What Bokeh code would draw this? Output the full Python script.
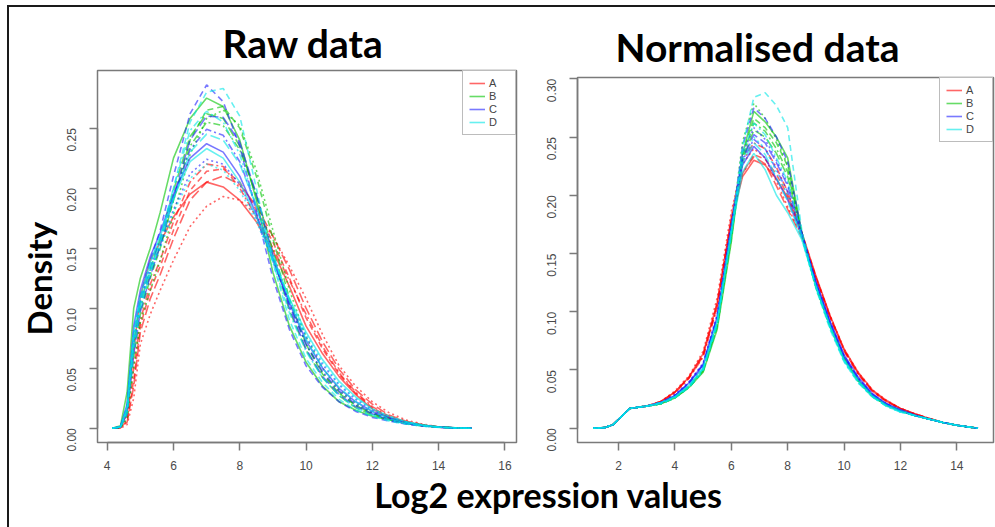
import math
from bokeh.plotting import figure
from bokeh.models import Range1d, FixedTicker, NumeralTickFormatter, Legend, LegendItem, Label, Title, Spacer
from bokeh.layouts import row, column
from bokeh.embed import file_html
from bokeh.resources import INLINE

# ---------------- data ----------------
group_names = ["A", "B", "C", "D"]
group_colors = ["#ff0000", "#00c400", "#1f1fff", "#00e6e6"]
line_styles = ["solid", "6 4", "2 3", "2 3 7 3", "10 4"]

raw_x = [4.15, 4.4, 4.6, 4.8, 5.0, 5.3, 5.6, 6.0, 6.5, 7.0, 7.5, 8.0, 8.5, 9.0, 9.5,
         10.0, 10.5, 11.0, 11.5, 12.0, 12.5, 13.0, 13.5, 14.0, 14.5, 15.0]

raw_A = [
    [0, 0.001, 0.012, 0.065, 0.11, 0.14, 0.155, 0.176, 0.195, 0.205, 0.201, 0.19, 0.172, 0.148, 0.118, 0.085, 0.062, 0.043, 0.028, 0.016, 0.009, 0.0045, 0.002, 0.0008, 0.0002, 0],
    [0, 0.0005, 0.006, 0.04, 0.085, 0.115, 0.135, 0.165, 0.198, 0.214, 0.216, 0.205, 0.182, 0.155, 0.125, 0.092, 0.066, 0.045, 0.029, 0.017, 0.0095, 0.005, 0.0025, 0.001, 0.0003, 0],
    [0, 0, 0.003, 0.025, 0.07, 0.095, 0.115, 0.14, 0.168, 0.185, 0.193, 0.19, 0.178, 0.16, 0.135, 0.108, 0.078, 0.052, 0.035, 0.022, 0.013, 0.007, 0.0035, 0.0012, 0.0003, 0.0001],
    [0, 0.0005, 0.008, 0.05, 0.09, 0.12, 0.14, 0.172, 0.205, 0.22, 0.218, 0.2, 0.176, 0.15, 0.123, 0.095, 0.068, 0.046, 0.03, 0.018, 0.01, 0.0055, 0.0025, 0.001, 0.0003, 0],
    [0, 0.0003, 0.005, 0.035, 0.08, 0.108, 0.128, 0.158, 0.19, 0.205, 0.21, 0.203, 0.185, 0.16, 0.132, 0.1, 0.072, 0.049, 0.032, 0.02, 0.011, 0.006, 0.003, 0.001, 0.0003, 0],
]
raw_B = [
    [0, 0.002, 0.03, 0.1, 0.125, 0.15, 0.18, 0.225, 0.258, 0.275, 0.268, 0.24, 0.19, 0.13, 0.085, 0.055, 0.035, 0.022, 0.015, 0.01, 0.007, 0.004, 0.002, 0.001, 0.0003, 0],
    [0, 0.0008, 0.012, 0.06, 0.095, 0.125, 0.15, 0.19, 0.24, 0.265, 0.268, 0.25, 0.21, 0.158, 0.108, 0.07, 0.045, 0.029, 0.019, 0.012, 0.008, 0.005, 0.0025, 0.001, 0.0003, 0],
    [0, 0.0005, 0.008, 0.05, 0.088, 0.115, 0.14, 0.178, 0.228, 0.258, 0.265, 0.252, 0.215, 0.165, 0.115, 0.076, 0.05, 0.032, 0.021, 0.013, 0.008, 0.005, 0.0025, 0.001, 0.0003, 0.0001],
    [0, 0.001, 0.015, 0.07, 0.1, 0.128, 0.152, 0.19, 0.235, 0.255, 0.252, 0.232, 0.195, 0.148, 0.104, 0.07, 0.046, 0.03, 0.019, 0.012, 0.008, 0.005, 0.0025, 0.001, 0.0003, 0],
    [0, 0.001, 0.016, 0.072, 0.104, 0.132, 0.158, 0.198, 0.243, 0.262, 0.258, 0.235, 0.193, 0.143, 0.098, 0.065, 0.042, 0.027, 0.017, 0.011, 0.007, 0.004, 0.002, 0.0008, 0.0002, 0],
]
raw_C = [
    [0, 0.0015, 0.02, 0.085, 0.115, 0.143, 0.163, 0.195, 0.225, 0.237, 0.23, 0.21, 0.178, 0.14, 0.104, 0.073, 0.05, 0.033, 0.022, 0.014, 0.009, 0.005, 0.0025, 0.001, 0.0003, 0],
    [0, 0.001, 0.018, 0.08, 0.11, 0.14, 0.165, 0.21, 0.262, 0.286, 0.272, 0.235, 0.18, 0.125, 0.082, 0.052, 0.034, 0.022, 0.014, 0.009, 0.006, 0.0035, 0.0018, 0.0007, 0.0002, 0],
    [0, 0.001, 0.014, 0.07, 0.104, 0.132, 0.152, 0.182, 0.212, 0.224, 0.22, 0.203, 0.175, 0.14, 0.106, 0.076, 0.053, 0.036, 0.024, 0.015, 0.009, 0.005, 0.0025, 0.001, 0.0003, 0],
    [0, 0.001, 0.016, 0.075, 0.107, 0.135, 0.157, 0.192, 0.232, 0.249, 0.244, 0.222, 0.185, 0.142, 0.102, 0.07, 0.047, 0.031, 0.02, 0.013, 0.008, 0.0045, 0.0022, 0.0009, 0.0002, 0],
    [0, 0.0008, 0.012, 0.062, 0.097, 0.127, 0.152, 0.193, 0.24, 0.26, 0.259, 0.238, 0.195, 0.145, 0.1, 0.066, 0.043, 0.028, 0.018, 0.012, 0.007, 0.004, 0.002, 0.0008, 0.0002, 0],
]
raw_D = [
    [0, 0.0012, 0.018, 0.08, 0.11, 0.138, 0.16, 0.192, 0.222, 0.233, 0.225, 0.205, 0.176, 0.142, 0.108, 0.08, 0.057, 0.039, 0.026, 0.016, 0.01, 0.0055, 0.0028, 0.001, 0.0003, 0],
    [0, 0.0008, 0.012, 0.065, 0.1, 0.13, 0.155, 0.2, 0.255, 0.28, 0.283, 0.26, 0.2, 0.138, 0.09, 0.058, 0.038, 0.024, 0.015, 0.01, 0.006, 0.0035, 0.0018, 0.0007, 0.0002, 0],
    [0, 0.001, 0.014, 0.07, 0.102, 0.13, 0.15, 0.18, 0.208, 0.22, 0.215, 0.198, 0.172, 0.14, 0.107, 0.078, 0.055, 0.037, 0.025, 0.016, 0.01, 0.0055, 0.0028, 0.001, 0.0003, 0],
    [0, 0.001, 0.016, 0.077, 0.108, 0.137, 0.16, 0.2, 0.248, 0.264, 0.255, 0.228, 0.185, 0.138, 0.096, 0.064, 0.042, 0.027, 0.017, 0.011, 0.007, 0.004, 0.002, 0.0008, 0.0002, 0],
    [0, 0.001, 0.015, 0.072, 0.104, 0.133, 0.155, 0.19, 0.23, 0.245, 0.24, 0.22, 0.185, 0.145, 0.106, 0.074, 0.05, 0.034, 0.022, 0.014, 0.008, 0.0045, 0.0022, 0.0009, 0.0002, 0],
]

norm_x = [1.1, 1.5, 1.8, 2.1, 2.4, 2.7, 3.0, 3.5, 4.0, 4.5, 5.0, 5.5, 6.0, 6.4, 6.8, 7.2,
          7.6, 8.0, 8.5, 9.0, 9.5, 10.0, 10.5, 11.0, 11.5, 12.0, 12.5, 13.0, 13.5, 14.0, 14.75]

norm_A = [
    [0, 0.0005, 0.003, 0.01, 0.017, 0.018, 0.019, 0.023, 0.031, 0.044, 0.064, 0.108, 0.178, 0.216, 0.230, 0.226, 0.214, 0.198, 0.168, 0.131, 0.097, 0.068, 0.048, 0.033, 0.024, 0.017, 0.0125, 0.0085, 0.005, 0.0025, 0],
    [0, 0.0005, 0.003, 0.01, 0.017, 0.018, 0.019, 0.023, 0.031, 0.043, 0.062, 0.105, 0.177, 0.219, 0.235, 0.231, 0.218, 0.2, 0.168, 0.13, 0.096, 0.067, 0.047, 0.032, 0.023, 0.017, 0.0125, 0.0085, 0.005, 0.0025, 0],
    [0, 0.0005, 0.003, 0.01, 0.017, 0.018, 0.019, 0.023, 0.032, 0.045, 0.066, 0.112, 0.186, 0.227, 0.240, 0.232, 0.212, 0.19, 0.165, 0.13, 0.097, 0.068, 0.048, 0.033, 0.024, 0.017, 0.0125, 0.0085, 0.005, 0.0025, 0],
    [0, 0.0005, 0.003, 0.01, 0.017, 0.018, 0.019, 0.022, 0.03, 0.043, 0.061, 0.104, 0.181, 0.229, 0.245, 0.24, 0.224, 0.203, 0.167, 0.129, 0.095, 0.066, 0.046, 0.032, 0.023, 0.017, 0.012, 0.008, 0.005, 0.0025, 0],
    [0, 0.0005, 0.003, 0.01, 0.017, 0.018, 0.019, 0.023, 0.031, 0.044, 0.063, 0.107, 0.181, 0.219, 0.233, 0.227, 0.208, 0.188, 0.164, 0.129, 0.096, 0.067, 0.047, 0.032, 0.023, 0.017, 0.0125, 0.0085, 0.005, 0.0025, 0],
]
norm_B = [
    [0, 0.0005, 0.003, 0.01, 0.017, 0.018, 0.019, 0.021, 0.026, 0.035, 0.048, 0.085, 0.16, 0.236, 0.272, 0.263, 0.25, 0.232, 0.168, 0.122, 0.088, 0.06, 0.041, 0.028, 0.02, 0.015, 0.011, 0.008, 0.005, 0.0025, 0],
    [0, 0.0005, 0.003, 0.01, 0.017, 0.018, 0.019, 0.021, 0.026, 0.035, 0.049, 0.087, 0.163, 0.235, 0.266, 0.258, 0.245, 0.225, 0.167, 0.122, 0.088, 0.06, 0.041, 0.028, 0.02, 0.015, 0.011, 0.008, 0.005, 0.0025, 0],
    [0, 0.0005, 0.003, 0.01, 0.017, 0.018, 0.019, 0.021, 0.027, 0.036, 0.05, 0.09, 0.17, 0.246, 0.279, 0.266, 0.248, 0.226, 0.166, 0.121, 0.087, 0.059, 0.04, 0.027, 0.02, 0.015, 0.011, 0.008, 0.005, 0.0025, 0],
    [0, 0.0005, 0.003, 0.01, 0.017, 0.018, 0.019, 0.021, 0.026, 0.035, 0.049, 0.088, 0.165, 0.232, 0.262, 0.255, 0.24, 0.22, 0.167, 0.122, 0.088, 0.06, 0.041, 0.028, 0.02, 0.015, 0.011, 0.008, 0.005, 0.0025, 0],
    [0, 0.0005, 0.003, 0.01, 0.017, 0.018, 0.019, 0.021, 0.027, 0.036, 0.05, 0.089, 0.166, 0.23, 0.256, 0.25, 0.236, 0.216, 0.166, 0.122, 0.088, 0.06, 0.041, 0.028, 0.02, 0.015, 0.011, 0.008, 0.005, 0.0025, 0],
]
norm_C = [
    [0, 0.0005, 0.003, 0.01, 0.017, 0.018, 0.019, 0.022, 0.028, 0.039, 0.055, 0.096, 0.172, 0.226, 0.242, 0.232, 0.214, 0.196, 0.166, 0.126, 0.092, 0.063, 0.044, 0.03, 0.021, 0.016, 0.0115, 0.008, 0.005, 0.0025, 0],
    [0, 0.0005, 0.003, 0.01, 0.017, 0.018, 0.019, 0.022, 0.028, 0.038, 0.053, 0.093, 0.17, 0.242, 0.275, 0.266, 0.25, 0.229, 0.168, 0.124, 0.09, 0.061, 0.042, 0.029, 0.02, 0.015, 0.011, 0.008, 0.005, 0.0025, 0],
    [0, 0.0005, 0.003, 0.01, 0.017, 0.018, 0.019, 0.022, 0.029, 0.04, 0.056, 0.098, 0.177, 0.236, 0.258, 0.248, 0.23, 0.21, 0.167, 0.125, 0.091, 0.062, 0.043, 0.029, 0.021, 0.015, 0.011, 0.008, 0.005, 0.0025, 0],
    [0, 0.0005, 0.003, 0.01, 0.017, 0.018, 0.019, 0.022, 0.028, 0.039, 0.055, 0.096, 0.174, 0.23, 0.248, 0.24, 0.222, 0.203, 0.166, 0.125, 0.091, 0.062, 0.043, 0.029, 0.021, 0.015, 0.011, 0.008, 0.005, 0.0025, 0],
    [0, 0.0005, 0.003, 0.01, 0.017, 0.018, 0.019, 0.022, 0.028, 0.039, 0.054, 0.095, 0.173, 0.232, 0.252, 0.245, 0.228, 0.208, 0.167, 0.125, 0.091, 0.062, 0.043, 0.029, 0.021, 0.015, 0.011, 0.008, 0.005, 0.0025, 0],
]
norm_D = [
    [0, 0.0005, 0.003, 0.01, 0.017, 0.018, 0.019, 0.022, 0.027, 0.037, 0.052, 0.092, 0.168, 0.22, 0.236, 0.222, 0.2, 0.185, 0.162, 0.122, 0.088, 0.059, 0.041, 0.028, 0.02, 0.015, 0.011, 0.008, 0.005, 0.0025, 0],
    [0, 0.0005, 0.003, 0.01, 0.017, 0.018, 0.019, 0.021, 0.026, 0.035, 0.049, 0.088, 0.165, 0.242, 0.284, 0.288, 0.277, 0.258, 0.17, 0.12, 0.085, 0.057, 0.039, 0.027, 0.019, 0.014, 0.011, 0.008, 0.005, 0.0025, 0],
    [0, 0.0005, 0.003, 0.01, 0.017, 0.018, 0.019, 0.021, 0.026, 0.035, 0.05, 0.09, 0.168, 0.23, 0.25, 0.24, 0.22, 0.2, 0.163, 0.12, 0.086, 0.057, 0.039, 0.027, 0.019, 0.014, 0.011, 0.008, 0.005, 0.0025, 0],
    [0, 0.0005, 0.003, 0.01, 0.017, 0.018, 0.019, 0.021, 0.027, 0.036, 0.051, 0.091, 0.17, 0.236, 0.262, 0.252, 0.232, 0.212, 0.165, 0.121, 0.087, 0.058, 0.04, 0.027, 0.019, 0.014, 0.011, 0.008, 0.005, 0.0025, 0],
    [0, 0.0005, 0.003, 0.01, 0.017, 0.018, 0.019, 0.022, 0.027, 0.036, 0.051, 0.091, 0.17, 0.228, 0.245, 0.235, 0.215, 0.195, 0.164, 0.122, 0.087, 0.058, 0.04, 0.027, 0.019, 0.014, 0.011, 0.008, 0.005, 0.0025, 0],
]

raw_xticks = [4, 6, 8, 10, 12, 14, 16]
raw_yticks = [0.0, 0.05, 0.10, 0.15, 0.20, 0.25]
norm_xticks = [2, 4, 6, 8, 10, 12, 14]
norm_yticks = [0.0, 0.05, 0.10, 0.15, 0.20, 0.25, 0.30]

panel_titles = ["Raw data", "Normalised data"]
y_label = "Density"
x_label = "Log2 expression values"

# ---------------- styling ----------------
TITLE_FONT = "Lato"
TICK_FONT = "Liberation Sans"
GREY = "#7a7a7a"
FRAME = {"background-color": "#1a1a1a"}


def style_panel(p, xticks, yticks):
    p.xgrid.visible = False
    p.ygrid.visible = False
    p.outline_line_color = GREY
    p.outline_line_width = 1.5
    p.background_fill_color = "white"
    p.border_fill_color = "white"
    p.xaxis.ticker = FixedTicker(ticks=xticks)
    p.yaxis.ticker = FixedTicker(ticks=yticks)
    p.yaxis.formatter = NumeralTickFormatter(format="0.00")
    p.xaxis.bounds = (xticks[0], xticks[-1])
    p.yaxis.bounds = (yticks[0], yticks[-1])
    for ax in (p.xaxis[0], p.yaxis[0]):
        ax.axis_line_color = GREY
        ax.axis_line_width = 1.5
        ax.major_tick_line_color = GREY
        ax.major_tick_line_width = 1.5
        ax.major_tick_out = 8
        ax.major_tick_in = 0
        ax.minor_tick_line_color = None
        ax.major_label_text_font = TICK_FONT
        ax.major_label_text_font_size = "12px"
        ax.major_label_text_color = "#4a4a4a"
    p.xaxis.major_label_standoff = 10
    p.yaxis.major_label_standoff = 18
    p.yaxis.major_label_orientation = math.pi / 2


def draw_curves(p, x, groups):
    firsts = []
    for g, col in zip(groups, group_colors):
        for k, ys in enumerate(g):
            r = p.line(x, ys, line_color=col, line_alpha=0.6, line_width=1.6,
                       line_dash=line_styles[k])
            if k == 0:
                firsts.append(r)
    legend = Legend(items=[LegendItem(label=n, renderers=[r]) for n, r in zip(group_names, firsts)],
                    location="top_right", margin=0, padding=6, spacing=1,
                    glyph_width=16, glyph_height=12, label_height=12, label_standoff=4,
                    label_text_font=TICK_FONT, label_text_font_size="11px",
                    label_text_color="#444444", border_line_color=GREY,
                    border_line_width=1.5, background_fill_alpha=1.0)
    p.add_layout(legend)


def big_title(text, offset, standoff, size, align="left"):
    return Title(text=text, align=align, offset=offset, standoff=standoff,
                 text_font=TITLE_FONT, text_font_size=size, text_font_style="bold",
                 text_color="black")


# left panel (frame top 70, bottom 442)
p1 = figure(width=521, height=468, x_range=Range1d(3.707, 16.35), y_range=Range1d(-0.0119, 0.298),
            output_backend="svg", toolbar_location=None, title=None,
            min_border_left=88, min_border_right=14, min_border_top=63, min_border_bottom=33)
style_panel(p1, raw_xticks, raw_yticks)
draw_curves(p1, raw_x, [raw_A, raw_B, raw_C, raw_D])
p1.add_layout(big_title(panel_titles[0], 125, 10, "39px"), "above")
p1.add_layout(big_title(y_label, 107, 1, "33px"), "left")

# right panel (frame top 76, bottom 442) - pushed down by a 6px spacer, same borders as p1
p2 = figure(width=465, height=462, x_range=Range1d(0.5445, 15.3), y_range=Range1d(-0.01224, 0.3011),
            output_backend="svg", toolbar_location=None, title=None,
            min_border_left=47, min_border_right=2, min_border_top=63, min_border_bottom=33)
style_panel(p2, norm_xticks, norm_yticks)
draw_curves(p2, norm_x, [norm_A, norm_B, norm_C, norm_D])
p2.add_layout(big_title(panel_titles[1], 38, 16, "39px"), "above")

# bottom strip with the shared x label
p3 = figure(width=986, height=52, x_range=Range1d(0, 986), y_range=Range1d(0, 52),
            output_backend="svg", toolbar_location=None, title=None, min_border=0,
            x_axis_type=None, y_axis_type=None)
p3.outline_line_color = None
p3.xgrid.visible = False
p3.ygrid.visible = False
p3.add_layout(Label(x=539, y=33, text=x_label, text_align="center", text_baseline="alphabetic",
                    text_font=TITLE_FONT, text_font_size="34px", text_font_style="bold",
                    text_color="black"))

top_row = row(p1, column(Spacer(width=465, height=6), p2))
content = column(Spacer(width=986, height=2, styles=FRAME), top_row, p3)
layout = column(Spacer(width=995, height=5),
                row(Spacer(width=7, height=522), Spacer(width=2, height=522, styles=FRAME), content))

open("out.html", "w").write(file_html(layout, INLINE))
